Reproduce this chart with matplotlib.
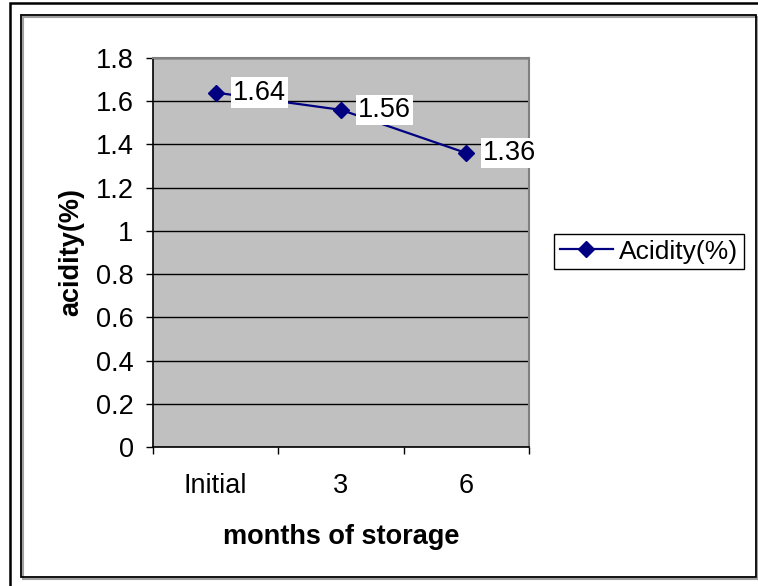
import matplotlib.pyplot as plt
from matplotlib.patches import Rectangle

plt.rcParams['font.family'] = ['Liberation Sans', 'DejaVu Sans']

# storage data
months = ['Initial', '3', '6']
acidity = [1.64, 1.56, 1.36]
y_ticks = [0, 0.2, 0.4, 0.6, 0.8, 1, 1.2, 1.4, 1.6, 1.8]
y_tick_labels = ['0', '0.2', '0.4', '0.6', '0.8', '1', '1.2', '1.4', '1.6', '1.8']

W, H = 758, 586
FS = 19.5
fig = plt.figure(figsize=(W / 100, H / 100), dpi=100)
fig.patch.set_facecolor('white')

# outer frame + inner chart frame with a grey shadow
fig.add_artist(Rectangle((10 / W, -0.1), 1.2, 1 - 3 / H + 0.1, transform=fig.transFigure,
                         fill=False, edgecolor='black', lw=1.8, zorder=0))
fig.add_artist(Rectangle((23 / W, 1 - 579 / H), 735 / W, 562 / H, transform=fig.transFigure,
                         fill=False, edgecolor='#a0a0a0', lw=1.5, zorder=0))
fig.add_artist(Rectangle((21 / W, 1 - 577 / H), 735 / W, 562 / H, transform=fig.transFigure,
                         fill=False, edgecolor='black', lw=1.3, zorder=0))

ax = fig.add_axes([153 / W, 1 - 447 / H, 376 / W, 389 / H])
ax.set_facecolor('#c0c0c0')

x = list(range(len(months)))
line, = ax.plot(x, acidity, color='#000080', lw=1.6, marker='D', markersize=8.5,
                label='Acidity(%)', zorder=4)

for xi, v in zip(x, acidity):
    ax.annotate(f'{v:.2f}', (xi, v), xytext=(17, 0), textcoords='offset pixels',
                ha='left', va='center', fontsize=FS, zorder=5,
                bbox=dict(boxstyle='square,pad=0.08', facecolor='white', edgecolor='none'))

ax.set_ylim(0, 1.8)
ax.set_yticks(y_ticks)
ax.set_yticklabels(y_tick_labels)
ax.set_xlim(-0.5, 2.5)
ax.set_xticks([-0.5, 0.5, 1.5, 2.5])
ax.set_xticklabels([])
ax.set_xticks(x, minor=True)
ax.set_xticklabels(months, minor=True)

ax.yaxis.grid(True, color='black', lw=1)
ax.set_axisbelow(True)

ax.tick_params(axis='y', direction='out', length=5, width=1, pad=9, labelsize=FS)
ax.tick_params(axis='x', which='major', direction='out', length=5, width=1)
ax.tick_params(axis='x', which='minor', length=0, pad=19, labelsize=FS)

for side in ['top', 'right']:
    ax.spines[side].set_color('#808080')
    ax.spines[side].set_linewidth(1.5)
ax.spines['left'].set_linewidth(1.2)
ax.spines['bottom'].set_linewidth(1.2)

ax.set_xlabel('months of storage', fontsize=FS, fontweight='bold', labelpad=18)
ax.set_ylabel('acidity(%)', fontsize=FS, fontweight='bold', labelpad=8)

leg = fig.legend(handles=[line], loc='center', bbox_to_anchor=(649 / W, 1 - 251.5 / H),
                 fontsize=FS - 0.5, frameon=True, fancybox=False, framealpha=1,
                 edgecolor='black', handlelength=2.0, handletextpad=0.25,
                 borderpad=0.22, borderaxespad=0)
leg.get_frame().set_linewidth(1)

fig.savefig('out.png', dpi=100, facecolor='white')
